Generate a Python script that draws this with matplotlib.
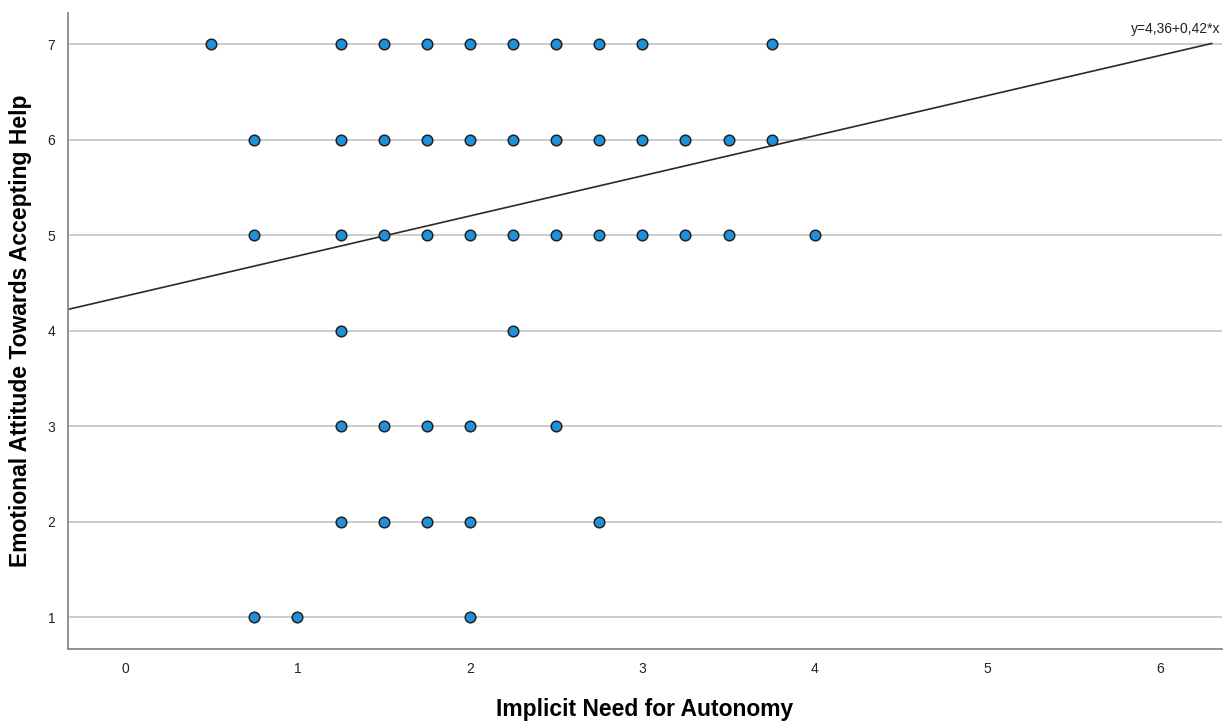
import matplotlib
matplotlib.use("Agg")
import matplotlib.pyplot as plt
import numpy as np

plt.rcParams["font.family"] = ["Liberation Sans", "DejaVu Sans"]

# Puntos (nivel de y -> valores de x)
autonomia_y7 = [0.5, 1.25, 1.5, 1.75, 2.0, 2.25, 2.5, 2.75, 3.0, 3.75]
autonomia_y6 = [0.75, 1.25, 1.5, 1.75, 2.0, 2.25, 2.5, 2.75, 3.0, 3.25, 3.5, 3.75]
autonomia_y5 = [0.75, 1.25, 1.5, 1.75, 2.0, 2.25, 2.5, 2.75, 3.0, 3.25, 3.5, 4.0]
autonomia_y4 = [1.25, 2.25]
autonomia_y3 = [1.25, 1.5, 1.75, 2.0, 2.5]
autonomia_y2 = [1.25, 1.5, 1.75, 2.0, 2.75]
autonomia_y1 = [0.75, 1.0, 2.0]

intercepto = 4.36
pendiente = 0.42
x_ticks = [0, 1, 2, 3, 4, 5, 6]
y_ticks = [1, 2, 3, 4, 5, 6, 7]


def main():
    grupos = [autonomia_y1, autonomia_y2, autonomia_y3, autonomia_y4,
              autonomia_y5, autonomia_y6, autonomia_y7]
    x = np.concatenate([np.array(g) for g in grupos])
    y = np.concatenate([np.full(len(g), nivel) for g, nivel in zip(grupos, y_ticks)])

    fig = plt.figure(figsize=(12.25, 7.22), dpi=100)
    ax = fig.add_axes([0.0555, 0.101, 0.942, 0.881])
    ax.set_xlim(-0.33, 6.36)
    ax.set_ylim(0.665, 7.325)

    for yy in y_ticks:
        ax.axhline(yy, color="#c8c8c8", lw=1.3, zorder=1)

    xl = np.array([-0.33, 6.3])
    ax.plot(xl, intercepto + pendiente * xl, color="#2a2a2a", lw=1.2, zorder=2)

    ax.scatter(x, y, s=58, c="#1e90dc", edgecolors="#222222", linewidths=1.1, zorder=3)

    ax.text(6.35, 7.08, "y=4,36+0,42*x", ha="right", va="bottom", fontsize=10, color="#222222")

    ax.set_xticks(x_ticks)
    ax.set_yticks(y_ticks)
    ax.tick_params(length=0, labelsize=10, colors="#222222", pad=9)
    for lado in ["top", "right"]:
        ax.spines[lado].set_visible(False)
    for lado in ["left", "bottom"]:
        ax.spines[lado].set_color("#888888")
        ax.spines[lado].set_linewidth(1.3)

    ax.set_xlabel("Implicit Need for Autonomy", fontsize=16.5, fontweight="bold", labelpad=16)
    ax.set_ylabel("Emotional Attitude Towards Accepting Help", fontsize=16.5, fontweight="bold", labelpad=11)

    fig.savefig("out.png", dpi=100)


main()
